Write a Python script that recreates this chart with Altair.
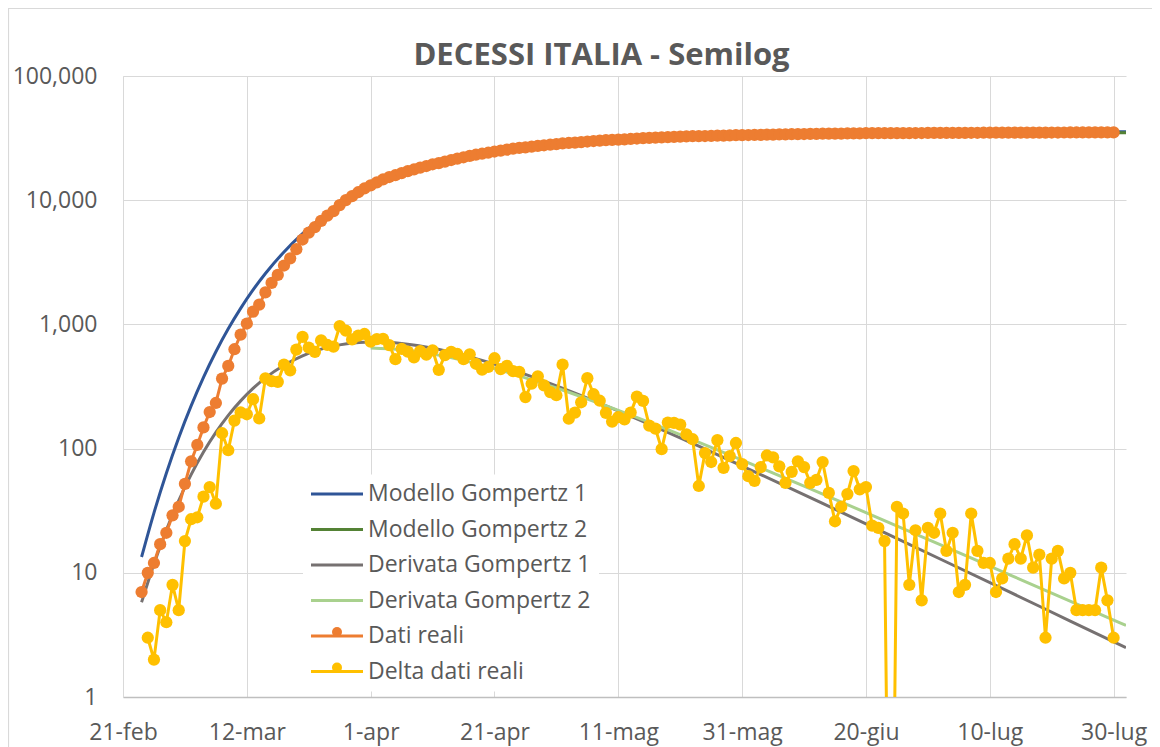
import altair as alt
import pandas as pd

# ---------------- data ----------------
series_names = ["Modello Gompertz 1", "Modello Gompertz 2", "Derivata Gompertz 1",
                "Derivata Gompertz 2", "Dati reali", "Delta dati reali"]
series_colors = ["#2F5597", "#548235", "#767171", "#A9D18E", "#ED7D31", "#FFC000"]
dot_names = ["Dati reali", "Delta dati reali"]
dot_colors = ["#ED7D31", "#FFC000"]

month_abbr = ["gen", "feb", "mar", "apr", "mag", "giu", "lug", "ago", "set", "ott", "nov", "dic"]
tick_dates = ["2020-02-21", "2020-03-12", "2020-04-01", "2020-04-21", "2020-05-11",
              "2020-05-31", "2020-06-20", "2020-07-10", "2020-07-30"]
x_domain = ["2020-02-21", "2020-08-01"]
y_ticks = [1, 10, 100, 1000, 10000, 100000]

# Gompertz model 1
g1_dates = ["2020-02-24", "2020-02-26", "2020-02-28", "2020-03-01", "2020-03-03", "2020-03-05",
            "2020-03-07", "2020-03-09", "2020-03-11", "2020-03-13", "2020-03-15", "2020-03-18",
            "2020-03-21", "2020-03-24", "2020-03-27", "2020-03-31", "2020-04-04", "2020-04-09",
            "2020-04-14", "2020-04-19", "2020-04-24", "2020-05-04", "2020-05-14", "2020-05-24",
            "2020-06-03", "2020-06-13", "2020-06-23", "2020-07-03", "2020-07-13", "2020-07-23",
            "2020-08-01"]
g1_model = [13.4, 30.4, 63.4, 122.5, 220.8, 374.6, 601.9, 920.7, 1346, 1893, 2568, 3831,
            5378, 7171, 9146, 11960, 14837, 18321, 21506, 24287, 26639, 30145, 32376, 33744,
            34556, 35035, 35315, 35477, 35571, 35625, 35654]
g1_deriv = [5.79, 11.79, 22.05, 38.17, 61.67, 93.7, 134.9, 184.9, 242.2, 305.2, 371.1, 469.4,
            558.8, 632.0, 683.9, 718.0, 715.2, 671.0, 598.5, 513.6, 428.1, 279.9, 173.6, 104.5,
            61.8, 36.2, 21.06, 12.22, 7.08, 4.09, 2.50]

# Gompertz model 2
g2_dates = ["2020-04-01", "2020-04-06", "2020-04-11", "2020-04-16", "2020-04-21", "2020-05-01",
            "2020-05-11", "2020-05-21", "2020-05-31", "2020-06-10", "2020-06-20", "2020-06-30",
            "2020-07-10", "2020-07-20", "2020-08-01"]
g2_model = [13151, 16350, 19360, 22086, 24468, 28193, 30720, 32356, 33390, 34032, 34426, 34667,
            34814, 34903, 34965]
g2_deriv = [647.0, 625.7, 576.5, 511.8, 441.1, 307.7, 202.9, 129.4, 80.8, 49.87, 30.54, 18.62,
            11.31, 6.87, 3.77]

# Dati reali (cumulative deaths), daily from 24-feb
real_start = "2020-02-24"
real_cum = [7, 10, 12, 17, 21, 29,
            34, 52, 79, 107, 148, 197, 233, 366, 463, 631, 827, 1016, 1266, 1441, 1809, 2158,
            2503, 2978, 3405, 4032, 4825, 5476, 6077, 6820, 7503, 8165, 9134, 10023, 10779,
            11591, 12428,
            13155, 13915, 14681, 15362, 15887, 16523, 17127, 17669, 18279, 18849, 19468, 19899,
            20465, 21067, 21645, 22170, 22745, 23227, 23660, 24114, 24648, 25085, 25549, 25969,
            26384, 26644, 26977, 27359, 27682, 27967,
            28236, 28710, 28884, 29079, 29315, 29684, 29958, 30201, 30395, 30560, 30739, 30911,
            31106, 31368, 31610, 31763, 31908, 32007, 32169, 32330, 32486, 32616, 32735, 32785,
            32877, 32955, 33072, 33142, 33229, 33340, 33415,
            33475, 33530, 33601, 33689, 33774, 33846, 33899, 33964, 34043, 34114, 34167, 34223,
            34301, 34345, 34371, 34405, 34448, 34514, 34561, 34610, 34634, 34657, 34675, 34644,
            34678, 34708, 34716, 34738, 34744, 34767,
            34788, 34818, 34833, 34854, 34861, 34869, 34899, 34914, 34926, 34938, 34945, 34954,
            34967, 34984, 34997, 35017, 35028, 35042, 35045, 35058, 35073, 35082, 35092, 35097,
            35102, 35107, 35112, 35123, 35129, 35132]

# Delta dati reali (daily deaths), daily from 25-feb
delta_start = "2020-02-25"
delta_real = [3, 2, 5, 4, 8,
              5, 18, 27, 28, 41, 49, 36, 133, 97, 168, 196, 189, 250, 175, 368, 349, 345, 475,
              427, 627, 793, 651, 601, 743, 683, 662, 969, 889, 756, 812, 837,
              727, 760, 766, 681, 525, 636, 604, 542, 610, 570, 619, 431, 566, 602, 578, 525,
              575, 482, 433, 454, 534, 437, 464, 420, 415, 260, 333, 382, 323, 285,
              269, 474, 174, 195, 236, 369, 274, 243, 194, 165, 179, 172, 195, 262, 242, 153,
              145, 99, 162, 161, 156, 130, 119, 50, 92, 78, 117, 70, 87, 111, 75,
              60, 55, 71, 88, 85, 72, 53, 65, 79, 71, 53, 56, 78, 44, 26, 34, 43, 66, 47, 49,
              24, 23, 18, -31, 34, 30, 8, 22, 6, 23,
              21, 30, 15, 21, 7, 8, 30, 15, 12, 12, 7, 9, 13, 17, 13, 20, 11, 14, 3, 13, 15, 9,
              10, 5, 5, 5, 5, 11, 6, 3]

# ---------------- tables ----------------
real_dates = pd.date_range(real_start, periods=len(real_cum), freq="D").strftime("%Y-%m-%d").tolist()
delta_dates = pd.date_range(delta_start, periods=len(delta_real), freq="D").strftime("%Y-%m-%d").tolist()

model_frames = {
    "Modello Gompertz 1": pd.DataFrame({"date": g1_dates, "value": g1_model}),
    "Modello Gompertz 2": pd.DataFrame({"date": g2_dates, "value": g2_model}),
    "Derivata Gompertz 1": pd.DataFrame({"date": g1_dates, "value": g1_deriv}),
    "Derivata Gompertz 2": pd.DataFrame({"date": g2_dates, "value": g2_deriv}),
}
for k, df in model_frames.items():
    df["series"] = k

real_df = pd.DataFrame({"date": real_dates, "value": real_cum, "series": "Dati reali"})
real_df["dot"] = real_df["series"]
delta_df = pd.DataFrame({"date": delta_dates, "raw": delta_real, "series": "Delta dati reali"})
# a non-positive value cannot sit on a log axis: the line simply drops out of the plot
delta_df["value"] = delta_df["raw"].where(delta_df["raw"] > 0, 0.001)
delta_df["dot"] = delta_df["series"]
delta_pts_df = delta_df[delta_df["raw"] > 0]


def dt(s):
    y, m, d = (int(p) for p in s.split("-"))
    return alt.DateTime(year=y, month=m, date=d, utc=True)


# ---------------- encodings ----------------
W, H = 1003, 621
FONT = "Open Sans"
TXT = "#595959"
GRID = "#D9D9D9"

month_js = "[" + ",".join("'" + m + "'" for m in month_abbr) + "]"
x_enc = alt.X(
    "date:T",
    scale=alt.Scale(type="utc", domain=[dt(s) for s in x_domain], nice=False),
    axis=alt.Axis(values=[dt(s) for s in tick_dates],
                  labelExpr="utcdate(datum.value) + '-' + " + month_js + "[utcmonth(datum.value)]",
                  title=None, grid=True, gridColor=GRID, gridWidth=1,
                  domainColor="#BFBFBF", domainWidth=1.3, ticks=False, tickSize=0,
                  labelPadding=24, labelFont=FONT, labelFontSize=23, labelColor=TXT,
                  labelOverlap=False, labelFlush=False),
)
y_enc = alt.Y(
    "value:Q",
    scale=alt.Scale(type="log", domain=[1, 100000], nice=False),
    axis=alt.Axis(values=y_ticks, format=",", title=None, grid=True, gridColor=GRID,
                  gridWidth=1, domainColor=GRID, domainWidth=1, ticks=False, tickSize=0,
                  labelPadding=26, labelFont=FONT, labelFontSize=23, labelColor=TXT,
                  labelOverlap=False, labelFlush=False),
)

# legend A: every series as a 52px line; legend B: the two dot markers laid over rows 5-6
LEG_X, LEG_Y, LEG_PAD, ROW_PAD = 180, 398.5, 8, 11.5
ROW = 23 + ROW_PAD
stroke_enc = alt.Stroke(
    "series:N", scale=alt.Scale(domain=series_names, range=series_colors),
    legend=alt.Legend(orient="none", legendX=LEG_X, legendY=LEG_Y, direction="vertical",
                      title=None, fillColor="white", padding=LEG_PAD,
                      symbolType="M-2.6,0L2.6,0", symbolSize=400, symbolStrokeWidth=3,
                      symbolOffset=14.5, labelOffset=19.5, rowPadding=ROW_PAD,
                      labelFont=FONT, labelFontSize=23, labelColor=TXT, labelLimit=500),
)
fill_enc = alt.Fill(
    "dot:N", scale=alt.Scale(domain=dot_names, range=dot_colors),
    legend=alt.Legend(orient="none", legendX=LEG_X, legendY=LEG_Y + 4 * ROW,
                      direction="vertical", title=None, padding=LEG_PAD,
                      symbolType="circle", symbolSize=100, symbolStrokeWidth=0,
                      symbolOffset=14.5, labelOffset=19.5, rowPadding=ROW_PAD,
                      labelFont=FONT, labelFontSize=23, labelExpr="''", labelLimit=500),
)

# ---------------- layers ----------------
# thin chart-area frame (its right and bottom edges fall outside the picture)
frame = alt.Chart(pd.DataFrame({"k": [0]})).mark_rect(
    fill="transparent", stroke="#D9D9D9", strokeWidth=1.2
).encode(x=alt.value(-114.5), x2=alt.value(W + 200), y=alt.value(-67.5), y2=alt.value(H + 200))

model_layers = [
    alt.Chart(df).mark_line(strokeWidth=3, interpolate="monotone", clip=True)
    .encode(x=x_enc, y=y_enc, stroke=stroke_enc)
    for df in model_frames.values()
]

real_line = alt.Chart(real_df).mark_line(strokeWidth=3, clip=True).encode(
    x=x_enc, y=y_enc, stroke=stroke_enc)
real_pts = alt.Chart(real_df).mark_circle(size=150, opacity=1, clip=True).encode(
    x=x_enc, y=y_enc, fill=fill_enc)
delta_line = alt.Chart(delta_df).mark_line(strokeWidth=3, clip=True).encode(
    x=x_enc, y=y_enc, stroke=stroke_enc)
delta_pts = alt.Chart(delta_pts_df).mark_circle(size=150, opacity=1, clip=True).encode(
    x=x_enc, y=y_enc, fill=fill_enc)

chart = alt.layer(frame, *model_layers, real_line, real_pts, delta_line, delta_pts).properties(
    width=W, height=H,
    title=alt.TitleParams("DECESSI ITALIA - Semilog", font=FONT, fontSize=31, fontWeight="bold",
                          color=TXT, anchor="middle", frame="group", dx=-23, dy=88, offset=0,
                          baseline="alphabetic"),
    autosize=alt.AutoSizeParams(type="none"),
    padding={"left": 115, "top": 68, "right": 26, "bottom": 50},
    background="white",
).configure_view(stroke=None)

chart.save("out.html", embed_options={"renderer": "svg", "actions": False})
